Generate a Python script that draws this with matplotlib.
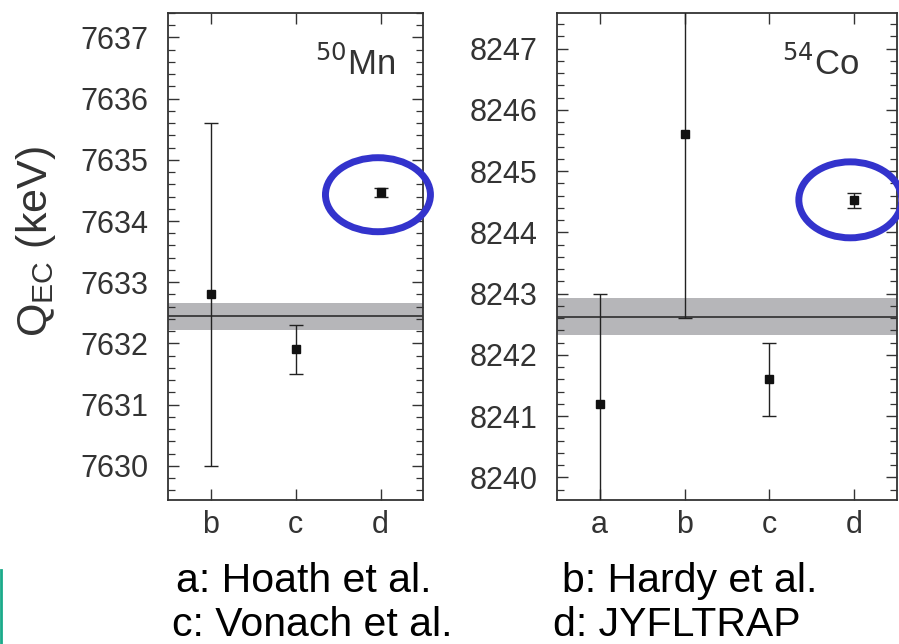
import matplotlib
matplotlib.use("Agg")
import matplotlib.pyplot as plt
from matplotlib.patches import Ellipse
from matplotlib.ticker import MultipleLocator
from matplotlib.lines import Line2D

plt.rcParams['font.family'] = ['Liberation Sans', 'DejaVu Sans']

# --- data ---
mn_labels = ['b', 'c', 'd']
mn_values = [7632.8, 7631.9, 7634.47]
mn_errors = [2.8, 0.4, 0.07]
mn_mean = 7632.44
mn_mean_err = 0.22

co_labels = ['a', 'b', 'c', 'd']
co_values = [8241.2, 8245.6, 8241.6, 8244.52]
co_errors = [1.8, 3.0, 0.6, 0.12]
co_mean = 8242.62
co_mean_err = 0.3

refs = ['a: Hoath et al.', 'b: Hardy et al.', 'c: Vonach et al.', 'd: JYFLTRAP']

W, H = 899, 644
fig = plt.figure(figsize=(W / 100, H / 100), dpi=100)

def px_axes(x0, y0, x1, y1):
    return fig.add_axes([x0 / W, 1 - y1 / H, (x1 - x0) / W, (y1 - y0) / H])

ax1 = px_axes(168, 13, 423, 500)
ax2 = px_axes(557, 13, 897, 500)

axcol = '#333333'

def style(ax, labels, values, errors, mean, merr, ylim, title):
    x = list(range(1, len(labels) + 1))
    ax.axhspan(mean - merr, mean + merr, color='#b6b6b9', lw=0, zorder=1)
    ax.axhline(mean, color='#222222', lw=1.1, zorder=2)
    ax.errorbar(x, values, yerr=errors, fmt='s', color='#111111', ms=5.5,
                ecolor='#222222', elinewidth=1.0, capsize=5, capthick=1.0,
                zorder=3)
    ax.set_xlim(0.5, len(labels) + 0.5)
    ax.set_ylim(*ylim)
    ax.set_xticks(x)
    ax.set_xticklabels(labels)
    ax.yaxis.set_major_locator(MultipleLocator(1))
    ax.yaxis.set_minor_locator(MultipleLocator(0.2))
    ax.yaxis.get_major_formatter().set_useOffset(False)
    ax.tick_params(axis='both', which='major', direction='in', length=8,
                   width=1.0, color=axcol, labelsize=22, labelcolor='#333333',
                   top=True, right=True)
    ax.tick_params(axis='y', which='major', pad=14)
    ax.tick_params(axis='y', which='minor', direction='in', length=5,
                   width=0.9, color=axcol, right=True, left=True)
    ax.tick_params(axis='x', which='major', pad=7)
    for s in ax.spines.values():
        s.set_color(axcol)
        s.set_linewidth(1.3)
    ax.text(0.89, 0.873, title, transform=ax.transAxes, ha='right',
            va='baseline', fontsize=25, color='#333333')

style(ax1, mn_labels, mn_values, mn_errors, mn_mean, mn_mean_err,
      (7629.44, 7637.40), r'$^{50}$Mn')
style(ax2, co_labels, co_values, co_errors, co_mean, co_mean_err,
      (8239.63, 8247.58), r'$^{54}$Co')

ax1.set_ylabel(r'Q$_{\mathregular{EC}}$ (keV)', fontsize=31, color='#333333')
ax1.yaxis.set_label_coords(-0.43, 0.53)

blue = '#3333cc'
ax1.add_patch(Ellipse((2.97, 7634.43), 1.235, 1.21, fill=False, ec=blue,
                      lw=5, clip_on=False, zorder=5))
ax2.add_patch(Ellipse((3.95, 8244.53), 1.21, 1.24, fill=False, ec=blue,
                      lw=5, clip_on=False, zorder=5))

fs = 29.5
fig.text(176 / W, 1 - 592 / H, refs[0], fontsize=fs, ha='left', va='baseline')
fig.text(562 / W, 1 - 592 / H, refs[1], fontsize=fs, ha='left', va='baseline')
fig.text(172 / W, 1 - 636 / H, refs[2], fontsize=fs, ha='left', va='baseline')
fig.text(553 / W, 1 - 636 / H, refs[3], fontsize=fs, ha='left', va='baseline')

fig.add_artist(Line2D([1 / W, 1 / W], [0, 1 - 570 / H], color='#1aaa8a', lw=2,
                      transform=fig.transFigure))

fig.savefig('out.png', dpi=100)
